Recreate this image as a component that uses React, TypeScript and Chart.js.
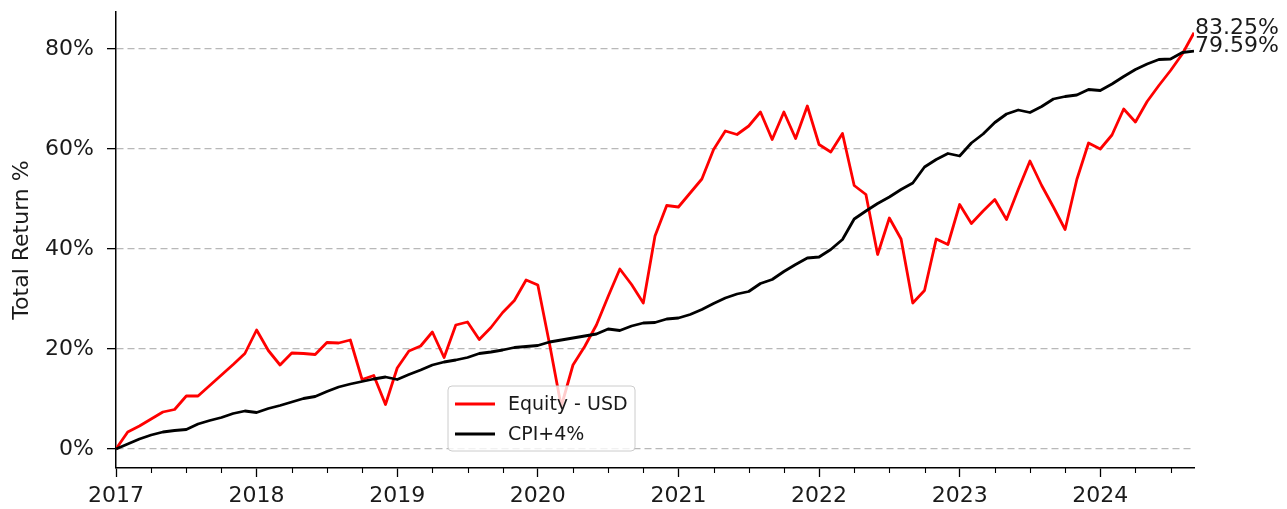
import React, { useEffect, useRef } from "react";
import { Chart, registerables } from "chart.js";

Chart.register(...registerables);

// Monthly total return (%) from Jan 2017 to Sep 2024
const equityUsd: number[] = [
  0, 3.4, 4.6, 6.0, 7.4, 7.9, 10.6, 10.6, 12.7, 14.8, 16.9, 19.1,
  23.8, 19.7, 16.8, 19.2, 19.1, 18.9, 21.3, 21.2, 21.8, 13.9, 14.7, 8.9,
  16.2, 19.6, 20.6, 23.4, 18.3, 24.8, 25.4, 21.9, 24.3, 27.3, 29.7, 33.8,
  32.8, 21.0, 8.5, 16.8, 20.5, 24.8, 30.5, 36.0, 32.9, 29.2, 42.6, 48.7,
  48.4, 51.2, 54.0, 59.9, 63.6, 62.9, 64.6, 67.4, 61.9, 67.4, 62.1, 68.6,
  60.9, 59.4, 63.1, 52.7, 50.9, 38.9, 46.2, 42.0, 29.2, 31.7, 42.0, 40.9,
  48.9, 45.1, 47.6, 49.9, 45.9, 51.9, 57.6, 52.7, 48.4, 43.9, 53.9, 61.2,
  60.0, 62.8, 68.0, 65.4, 69.5, 72.7, 75.7, 79.0, 83.25,
];

const cpiPlus4: number[] = [
  0, 1.0, 2.0, 2.8, 3.4, 3.7, 3.9, 5.0, 5.7, 6.3, 7.1, 7.6,
  7.3, 8.1, 8.7, 9.4, 10.1, 10.5, 11.5, 12.4, 13.0, 13.5, 14.0, 14.4,
  13.9, 14.9, 15.8, 16.8, 17.4, 17.8, 18.3, 19.1, 19.4, 19.8, 20.3, 20.5,
  20.7, 21.4, 21.8, 22.2, 22.6, 23.0, 24.0, 23.7, 24.6, 25.2, 25.3, 26.0,
  26.2, 26.9, 27.9, 29.1, 30.2, 31.0, 31.5, 33.1, 33.9, 35.5, 36.9, 38.2,
  38.4, 39.9, 41.9, 46.0, 47.6, 49.1, 50.4, 51.9, 53.2, 56.4, 57.9, 59.1,
  58.6, 61.2, 63.0, 65.3, 67.0, 67.8, 67.3, 68.5, 70.0, 70.5, 70.8, 71.9,
  71.7, 73.0, 74.5, 75.9, 77.0, 77.9, 78.0, 79.3, 79.59,
];

const seriesNames: string[] = ["Equity - USD", "CPI+4%"];
const seriesColors: string[] = ["#ff0000", "#000000"];

const yearLabels: string[] = ["2017", "2018", "2019", "2020", "2021", "2022", "2023", "2024"];
const yearTickMonths: number[] = [0, 12, 24, 36, 48, 60, 72, 84];
const yTickValues: number[] = [0, 20, 40, 60, 80];
const lastLabels: string[] = ["83.25%", "79.59%"];

const FONT = "'DejaVu Sans', sans-serif";

export default function App() {
  const ref = useRef<HTMLCanvasElement | null>(null);

  useEffect(() => {
    const canvas = ref.current;
    if (!canvas) return;
    const lastIndex = equityUsd.length - 1;

    const overlay = {
      id: "overlay",
      afterDraw(chart: any) {
        const ctx = chart.ctx;
        const xs = chart.scales.x;
        const ys = chart.scales.y;
        const area = chart.chartArea;
        ctx.save();
        // minor quarterly ticks
        ctx.strokeStyle = "#000";
        ctx.lineWidth = 1.1;
        for (let m = 3; m <= lastIndex; m += 3) {
          if (m % 12 === 0) continue;
          const px = Math.round(xs.getPixelForValue(m)) + 0.5;
          ctx.beginPath();
          ctx.moveTo(px, area.bottom);
          ctx.lineTo(px, area.bottom + 5);
          ctx.stroke();
        }
        // end value labels
        ctx.fillStyle = "#1a1a1a";
        ctx.font = `22px ${FONT}`;
        ctx.textAlign = "left";
        ctx.textBaseline = "alphabetic";
        const series = [equityUsd, cpiPlus4];
        series.forEach((s, k) => {
          const px = xs.getPixelForValue(lastIndex);
          const py = ys.getPixelForValue(s[lastIndex]);
          ctx.fillText(lastLabels[k], px + 1, py + 1);
        });
        // legend
        const lx = 448, ly = 386, lw = 187, lh = 65, r = 4;
        ctx.fillStyle = "rgba(255,255,255,0.8)";
        ctx.strokeStyle = "#cccccc";
        ctx.lineWidth = 1;
        ctx.beginPath();
        ctx.moveTo(lx + r, ly);
        ctx.lineTo(lx + lw - r, ly);
        ctx.arcTo(lx + lw, ly, lx + lw, ly + r, r);
        ctx.lineTo(lx + lw, ly + lh - r);
        ctx.arcTo(lx + lw, ly + lh, lx + lw - r, ly + lh, r);
        ctx.lineTo(lx + r, ly + lh);
        ctx.arcTo(lx, ly + lh, lx, ly + lh - r, r);
        ctx.lineTo(lx, ly + r);
        ctx.arcTo(lx, ly, lx + r, ly, r);
        ctx.closePath();
        ctx.fill();
        ctx.stroke();
        ctx.font = `19px ${FONT}`;
        ctx.textBaseline = "middle";
        seriesNames.forEach((name, k) => {
          const yy = ly + 18 + k * 30;
          ctx.strokeStyle = seriesColors[k];
          ctx.lineWidth = 3;
          ctx.beginPath();
          ctx.moveTo(455, yy);
          ctx.lineTo(495, yy);
          ctx.stroke();
          ctx.fillStyle = "#1a1a1a";
          ctx.fillText(name, 508, yy + 1);
        });
        ctx.restore();
      },
    };

    const chart = new Chart(canvas, {
      type: "line",
      data: {
        datasets: [
          {
            label: seriesNames[0],
            data: equityUsd.map((y, i) => ({ x: i, y })),
            borderColor: seriesColors[0],
            backgroundColor: seriesColors[0],
            borderWidth: 2.8,
            pointRadius: 0,
            tension: 0,
            fill: false,
            borderJoinStyle: "round",
            order: 2,
          },
          {
            label: seriesNames[1],
            data: cpiPlus4.map((y, i) => ({ x: i, y })),
            borderColor: seriesColors[1],
            backgroundColor: seriesColors[1],
            borderWidth: 2.8,
            pointRadius: 0,
            tension: 0,
            fill: false,
            borderJoinStyle: "round",
            order: 1,
          },
        ],
      },
      options: {
        responsive: false,
        animation: false,
        devicePixelRatio: 1,
        layout: { padding: { top: 12, right: 93, left: 0, bottom: 0 } },
        plugins: { legend: { display: false }, tooltip: { enabled: false } },
        scales: {
          x: {
            type: "linear",
            min: 0,
            max: lastIndex,
            afterFit: (s: any) => {
              s.height = 41;
              s.paddingLeft = 0;
              s.paddingRight = 0;
            },
            afterBuildTicks: (s: any) => {
              s.ticks = yearTickMonths.map((v) => ({ value: v }));
            },
            ticks: {
              autoSkip: false,
              maxRotation: 0,
              padding: 6,
              color: "#1a1a1a",
              font: { family: FONT, size: 22 },
              callback: (v: any) => {
                const k = yearTickMonths.indexOf(Number(v));
                return k >= 0 ? yearLabels[k] : "";
              },
            },
            grid: {
              display: true,
              drawOnChartArea: false,
              drawTicks: true,
              tickLength: 9,
              tickColor: "#000",
              tickWidth: 1.3,
            },
            border: { display: true, color: "#000", width: 1.5 },
          },
          y: {
            type: "linear",
            min: -3.8,
            max: 87.4,
            afterFit: (s: any) => {
              s.width = 116;
              s.paddingTop = 0;
              s.paddingBottom = 0;
            },
            afterBuildTicks: (s: any) => {
              s.ticks = yTickValues.map((v) => ({ value: v }));
            },
            ticks: {
              padding: 13,
              color: "#1a1a1a",
              font: { family: FONT, size: 22 },
              callback: (v: any) => `${v}%`,
            },
            grid: {
              display: true,
              drawOnChartArea: true,
              drawTicks: true,
              color: "#b8b8b8",
              lineWidth: 1.3,
              tickLength: 9,
              tickColor: "#000",
              tickWidth: 1.3,
            },
            border: { display: true, color: "#000", width: 1.5, dash: [7, 4] },
            title: {
              display: true,
              text: "Total Return %",
              color: "#1a1a1a",
              font: { family: FONT, size: 22 },
              padding: { top: 9, bottom: 0 },
            },
          },
        },
      },
      plugins: [overlay],
    } as any);

    return () => {
      chart.destroy();
    };
  }, []);

  return (
    <div style={{ position: "fixed", left: 0, top: 0, width: 1287, height: 509, background: "#fff" }}>
      <canvas ref={ref} width={1287} height={509} style={{ width: 1287, height: 509, display: "block" }} />
    </div>
  );
}
